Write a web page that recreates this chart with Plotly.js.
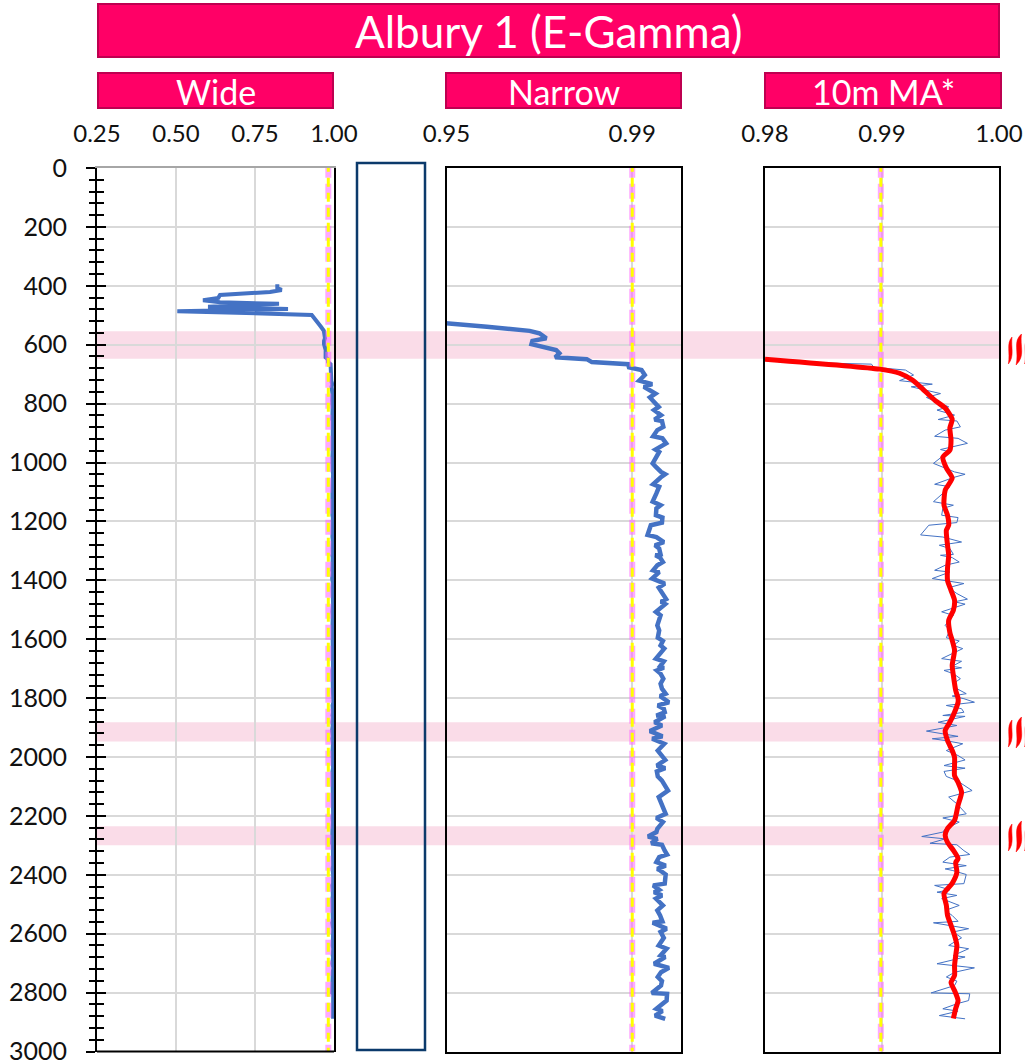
<!DOCTYPE html>
<html><head><meta charset="utf-8">
<script src="https://cdn.plot.ly/plotly-3.0.1.min.js"></script>
<style>html,body{margin:0;padding:0;background:#fff}</style></head>
<body><div id="chart" style="width:1025px;height:1063px"></div>
<script>
const titleText = "Albury 1 (E-Gamma)";
const panelTitles = ["Wide", "Narrow", "10m MA*"];
const wideTicks = [0.25, 0.50, 0.75, 1.00];
const narrowTicks = [0.95, 0.99];
const maTicks = [0.98, 0.99, 1.00];
const depthTicks = [0,200,400,600,800,1000,1200,1400,1600,1800,2000,2200,2400,2600,2800,3000];
const bands = [[554,648],[1882,1947],[2235,2300]];
const thresholdDepth = [-18, 3000];
const thresholdValues = [0.982, 0.99, 0.9899];

// shallow part of the log
const headDepth = [395,408,414,421,431,441,449,456,461,471,479,482,486,499,525,539,553,561,578,587,598,618,629,643,649,659];
const headValue = [.8206,.8206,.8345,.7975,.6393,.6339,.5855,.6393,.8260,.6013,.8545,.6013,.5041,.9296,.9501,.9587,.9679,.9700,.9715,.9685,.9683,.9736,.9743,.9734,.9802,.9813];

const rawDepth = [666,677,686,703,722,734,743,766,779,790,811,822,839,854,859,879,890,911,918,935,956,964,981,1003,1015,1032,1040,1051,1074,1082,1105,1133,1145,1156,1179,1187,1204,1213,
1246,1253,1270,1281,1292,1312,1315,1323,1338,1349,1366,1372,1394,1400,1411,1425,1445,1464,1473,1481,1507,1519,1553,1570,1595,1606,1621,1632,1666,1672,1675,1692,1697,1706,1717,1734,1751,1768,1785,1793,1802,
1814,1825,1836,1848,1859,1862,1882,1893,1912,1921,1930,1938,1944,1955,1978,1995,2010,2029,2038,2049,2066,2080,2114,2136,2159,2193,2207,2221,2244,2255,2270,2278,2293,2298,2318,2331,2340,2357,2369,2380,
2385,2399,2430,2436,2451,2459,2470,2481,2504,2521,2538,2558,2563,2583,2594,2614,2640,2651,2674,2679,2702,2716,2731,2747,2761,2776,2801,2804,2827,2838,2855,2863,2878,2889];
const rawValue = [.9891,.9893,.9920,.9927,.9915,.9943,.9925,.9950,.9938,.9944,.9957,.9947,.9962,.9948,.9964,.9967,.9954,.9945,.9965,.9973,.9950,.9958,.9951,.9944,.9951,.9962,.9971,.9961,.9945,.9958,.9952,.9944,.9961,.9952,.9951,.9965,.9964,.9940,
.9933,.9952,.9968,.9949,.9958,.9961,.9950,.9960,.9966,.9954,.9945,.9958,.9943,.9954,.9970,.9957,.9964,.9973,.9962,.9971,.9951,.9961,.9954,.9958,.9955,.9966,.9961,.9969,.9951,.9962,.9968,.9960,.9968,.9953,.9961,.9967,.9961,.9964,.9972,.9960,.9970,
.9979,.9955,.9968,.9970,.9952,.9971,.9948,.9964,.9938,.9952,.9965,.9943,.9954,.9969,.9955,.9965,.9971,.9953,.9971,.9953,.9955,.9964,.9977,.9957,.9964,.9972,.9952,.9966,.9954,.9952,.9934,.9954,.9941,.9964,.9970,.9975,.9958,.9952,.9972,.9954,
.9960,.9972,.9970,.9945,.9958,.9947,.9964,.9951,.9966,.9954,.9960,.9965,.9944,.9974,.9961,.9968,.9957,.9974,.9961,.9971,.9947,.9979,.9962,.9955,.9964,.9962,.9942,.9975,.9974,.9964,.9952,.9965,.9949,.9971];

// 10 m moving average
const maDepth = [649,683,697,720,744,788,815,853,883,924,958,982,1019,1053,1094,1145,1179,1213,1230,1281,1315,1359,1400,1434,1468,1502,1536,1577,1604,1638,1689,1723,1774,1801,1814,1848,1882,1910,1944,1978,2001,2028,2063,2086,2120,2164,2215,2243,2266,2290,2317,2345,2358,2392,2429,2463,2504,2538,2572,2606,2640,2674,2708,2742,2766,2793,2827,2854,2888];
const maValue = [.9800,.9898,.9915,.9926,.9933,.9945,.9954,.9960,.9958,.9959,.9958,.9952,.9955,.9960,.9954,.9953,.9956,.9957,.9955,.9956,.9957,.9956,.9956,.9959,.9962,.9961,.9957,.9958,.9960,.9962,.9960,.9961,.9963,.9965,.9965,.9962,.9958,.9954,.9956,.9960,.9962,.9962,.9962,.9965,.9968,.9965,.9962,.9956,.9954,.9956,.9961,.9965,.9963,.9964,.9960,.9953,.9955,.9956,.9959,.9962,.9964,.9963,.9962,.9962,.9959,.9962,.9965,.9963,.9961];

const logDepth = headDepth.concat(rawDepth);
const logValue = headValue.concat(rawValue);

const W = 1025, H = 1063;
const px = x => x / W, py = y => 1 - y / H;
const FONT = "Lato, Carlito, sans-serif";
const yDom = [py(1051.5), py(168)];
const BLUE = "#4472C4", GRID = "#D9D9D9", BAND = "#FADCE8", HEAD = "#FF0066", HEADLINE = "#BE0050";
const TICK = {size: 24, color: "#111", family: FONT};

function logTrace(xa, ya, width, xs, ys, color, shape) {
  return {type:"scatter", mode:"lines", x:xs, y:ys, xaxis:xa, yaxis:ya, line:{color:color, width:width, shape:shape||"linear", smoothing:0.6}, hoverinfo:"skip"};
}
function thresholdTraces(xa, ya, v) {
  const xs = [v, v];
  return [
    {type:"scatter", mode:"lines", x:xs, y:thresholdDepth, xaxis:xa, yaxis:ya, cliponaxis:false, hoverinfo:"skip",
     line:{color:"rgba(255,100,255,0.55)", width:6, dash:"15px,6px"}},
    {type:"scatter", mode:"lines", x:xs, y:thresholdDepth, xaxis:xa, yaxis:ya, cliponaxis:false, hoverinfo:"skip",
     line:{color:"#FFFF00", width:3, dash:"9px,6px"}}
  ];
}
const traces = [
  logTrace("x","y",4,logValue,logDepth,BLUE),
  ...thresholdTraces("x","y",thresholdValues[0]),
  logTrace("x2","y2",4.5,logValue,logDepth,BLUE),
  ...thresholdTraces("x2","y2",thresholdValues[1]),
  logTrace("x3","y3",1,logValue,logDepth,BLUE),
  ...thresholdTraces("x3","y3",thresholdValues[2]),
  logTrace("x3","y3",5,maValue,maDepth,"#FF0000","spline"),
  {type:"scatter", mode:"none", x:[wideTicks[0]], y:[depthTicks[0]], xaxis:"x", yaxis:"y4", hoverinfo:"skip"}
];

function xAxis(dom, range, ticks, anchor, frameColor, mirror) {
  return {domain:[px(dom[0]),px(dom[1])], range:range, anchor:anchor, side:"top", tickmode:"array", tickvals:ticks,
    ticktext:ticks.map(v=>v.toFixed(2)), ticks:"", tickfont:TICK, ticklabelstandoff:14, showgrid:true, gridcolor:GRID, gridwidth:2,
    zeroline:false, showline:true, linecolor:frameColor, linewidth:2, mirror:mirror, automargin:false};
}
function yAxis(anchor, extra) {
  return Object.assign({domain:yDom, range:[depthTicks[depthTicks.length-1],depthTicks[0]], anchor:anchor, tickmode:"linear", tick0:0, dtick:200,
    zeroline:false, showline:true, linecolor:"#000", linewidth:2, mirror:true, automargin:false,
    showgrid:true, gridcolor:GRID, gridwidth:2, ticks:"", showticklabels:false}, extra||{});
}

const shapes = [], annotations = [];
function box(x0,y0,x1,y1,fill,line,w,layer) {
  shapes.push({type:"rect", xref:"paper", yref:"paper", x0:px(x0), x1:px(x1), y0:py(y1), y1:py(y0), fillcolor:fill, line:{color:line,width:w}, layer:layer||"above"});
}
function label(t,x0,x1,yc,size) {
  annotations.push({text:t, xref:"paper", yref:"paper", x:px((x0+x1)/2), y:py(yc), xanchor:"center", yanchor:"middle", showarrow:false, font:{family:FONT,size:size,color:"#fff"}});
}
bands.forEach(b => shapes.push({type:"rect", xref:"paper", yref:"y", x0:px(97), x1:px(999), y0:b[0], y1:b[1], fillcolor:BAND, line:{width:0}, layer:"below"}));
box(98,4,999,57,HEAD,HEADLINE,2);
box(98,73,333,108,HEAD,HEADLINE,2);
box(446,73,681,108,HEAD,HEADLINE,2);
box(765,73,1001,108,HEAD,HEADLINE,2);
box(357,163,425,1050,"rgba(0,0,0,0)","#0B3A6B",2.5);
shapes.push({type:"line", xref:"paper", yref:"paper", x0:px(97), x1:px(334), y0:yDom[0], y1:yDom[0], line:{color:"#000",width:2}});
label(titleText,98,999,31,44);
label(panelTitles[0],98,333,91,34);
label(panelTitles[1],446,681,91,34);
label(panelTitles[2],765,1001,91,34);

// heat marks at the right of each band
function flame(x, top, w, h) {
  const X = v => px(x + v*w), Y = v => py(top + v*h);
  const f = (a,b) => X(a).toFixed(5)+","+Y(b).toFixed(5);
  return "M"+f(0.75,0)+" C"+f(0,0.25)+" "+f(0.55,0.55)+" "+f(0.3,1)+
         " C"+f(1.1,0.7)+" "+f(0.6,0.4)+" "+f(0.75,0)+" Z";
}
[[334],[717],[821]].forEach(r => {
  [[1006,8,27,3],[1012.5,12,31,0],[1022,9,27,3]].forEach(s => {
    shapes.push({type:"path", xref:"paper", yref:"paper", path:flame(s[0], r[0]+s[3], s[1], s[2]), fillcolor:"#FF0000", line:{width:0.5,color:"#FF0000"}});
  });
});

const layout = {
  width:W, height:H, margin:{l:0,r:0,t:0,b:0,pad:0}, paper_bgcolor:"#fff", plot_bgcolor:"rgba(0,0,0,0)", showlegend:false, font:{family:FONT},
  xaxis: xAxis([97,334],[0.25,1.0],wideTicks,"y","#A6A6A6",false),
  xaxis2: xAxis([446.5,681],[0.95,1.0005],narrowTicks,"y2","#000",true),
  xaxis3: xAxis([765,999],[0.98,1.0],maTicks,"y3","#000",true),
  yaxis: yAxis("x",{showticklabels:true, tickmode:"array", tickvals:depthTicks, ticktext:depthTicks.map(String), tickfont:Object.assign({},TICK,{size:25}), ticks:"outside", ticklen:9, tickwidth:2, tickcolor:"#000", ticklabelstandoff:14, ticklabeloverflow:"allow",
    minor:{dtick:40, tick0:0, ticks:"outside", ticklen:6, tickwidth:2, tickcolor:"#000", showgrid:false}}),
  yaxis2: yAxis("x2"),
  yaxis3: yAxis("x3"),
  yaxis4: yAxis("x",{overlaying:"y", showgrid:false, showline:false, mirror:false, tickmode:"linear", tick0:0, dtick:200, ticks:"inside", ticklen:9, tickwidth:2, tickcolor:"#000",
    minor:{dtick:40, tick0:0, ticks:"inside", ticklen:7, tickwidth:2, tickcolor:"#000", showgrid:false}}),
  shapes:shapes, annotations:annotations
};
Plotly.newPlot("chart", traces, layout, {displayModeBar:false, staticPlot:true});
</script></body></html>
